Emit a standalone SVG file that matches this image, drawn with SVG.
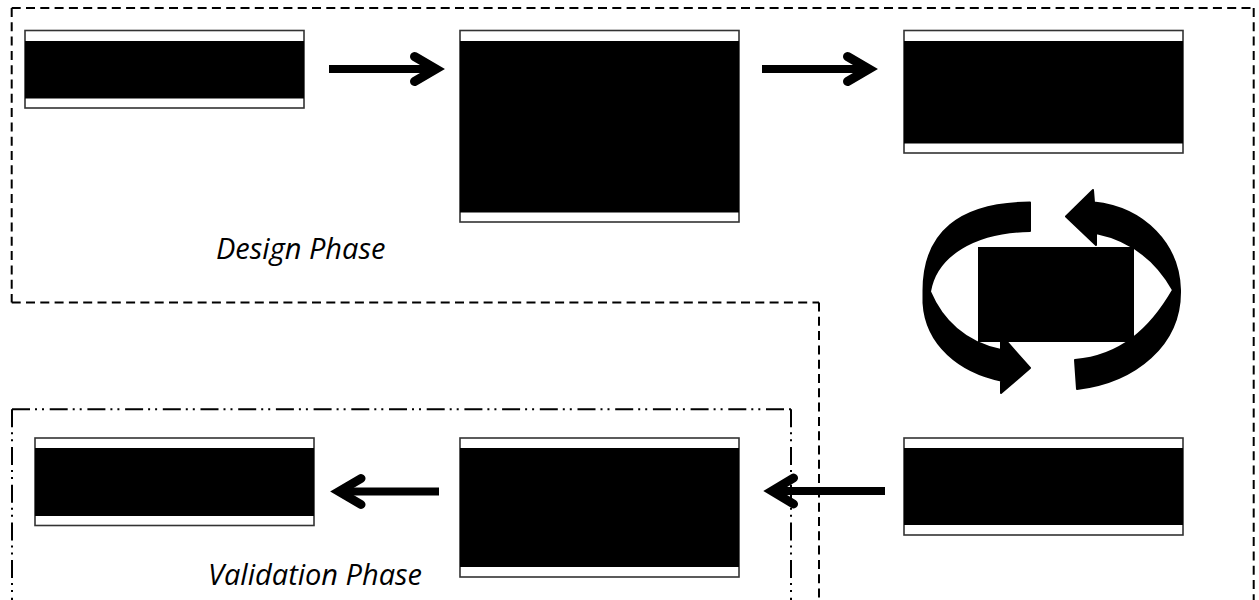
<svg xmlns="http://www.w3.org/2000/svg" width="1259" height="600" viewBox="0 0 1259 600">
<style>
.frame{fill:#fff;stroke:#333;stroke-width:1.6}
.fill{fill:#000}
.arrow{fill:none;stroke:#000;stroke-width:8}
.head{fill:none;stroke:#000;stroke-width:9;stroke-linecap:round;stroke-linejoin:miter;stroke-miterlimit:10}
.outer{fill:none;stroke:#000;stroke-width:2;stroke-dasharray:9 5.300}
.inner{fill:none;stroke:#000;stroke-width:2;stroke-dasharray:18 5 2 5 2 5.700}
.cycle{fill:#000;stroke:#000;stroke-width:2;stroke-linejoin:round}
.label{font-family:"Open Sans","Noto Sans",sans-serif;font-style:italic;font-size:29px;fill:#000}
</style>
<rect width="1259" height="600" fill="#fff"/>
<g id="phases">
<path id="design-phase" class="outer" d="M11.700 8H1253.700M1253.700 8V600M11.700 8V302.500M11.700 302.500H819M819 302.500V600"/>
<path id="validation-phase" class="inner" d="M12 409.300H791M791 409.300V600M12 409.300V600"/>
</g>
<g id="node-1"><rect class="frame" x="25" y="30.500" width="279" height="77.500"/><rect class="fill" x="25" y="41" width="279" height="57.500"/></g>
<g id="node-2"><rect class="frame" x="460" y="30.500" width="279" height="191.500"/><rect class="fill" x="460" y="41" width="279" height="171.500"/></g>
<g id="node-3"><rect class="frame" x="904" y="30.500" width="279" height="122.500"/><rect class="fill" x="904" y="41" width="279" height="102.500"/></g>
<g id="node-4"><rect class="frame" x="904" y="438" width="279" height="97"/><rect class="fill" x="904" y="448" width="279" height="77"/></g>
<g id="node-5"><rect class="frame" x="460" y="438" width="279" height="139"/><rect class="fill" x="460" y="448" width="279" height="119"/></g>
<g id="node-6"><rect class="frame" x="35" y="438" width="279" height="87.500"/><rect class="fill" x="35" y="448" width="279" height="68"/></g>
<g id="connectors">
<path class="arrow" d="M329 69H438"/><path class="head" d="M414.500 56.500L436 69L414.500 81.500"/>
<path class="arrow" d="M762 69H871"/><path class="head" d="M847.500 56.500L869 69L847.500 81.500"/>
<path class="arrow" d="M439 491.500H339"/><path class="head" d="M361 478.500L339 491.500L361 504.500"/>
<path class="arrow" d="M885 491H772"/><path class="head" d="M793.500 478L772 491L793.500 504"/>
</g>
<g id="cycle">
<path class="cycle" d="M1030 202.500C960 203 923 232 923.500 292L923.500 303C926 345 960 372 1001 380.500L1001 393L1030 368L1007 342L1001 342L1001 350C965 343 942 320 930 291.700C936 255 975 232 1030 231Z"/>
<path class="cycle" d="M1066 216.500L1093 190L1094 202.500C1145 208 1179 245 1180 290C1181 345 1135 382 1077 389L1075 360C1120 356 1150 330 1173 290C1155 258 1130 240 1096 233L1096 245Z"/>
<rect id="node-center" class="fill" x="978" y="247" width="156" height="95"/>
</g>
<text class="label" x="216" y="259">Design Phase</text>
<text class="label" x="208" y="585">Validation Phase</text>
</svg>
